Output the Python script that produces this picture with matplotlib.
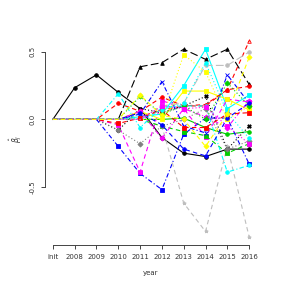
import matplotlib
matplotlib.use("Agg")
import matplotlib.pyplot as plt
import numpy as np

# x axis categories
years = ["init", "2008", "2009", "2010", "2011", "2012", "2013", "2014", "2015", "2016"]

# estimated coefficient paths, one list per variable
b01 = [0, 0.235, 0.33, 0.20, 0.08, -0.135, -0.25, -0.275, -0.22, -0.22]
b02 = [0, 0, 0, 0, 0.39, 0.42, 0.52, 0.445, 0.52, 0.26]
b03 = [0, 0, 0, 0, 0.02, 0.07, 0.10, 0.10, 0.22, 0.58]
b04 = [0, 0, 0, 0, 0, 0, 0.01, -0.06, -0.11, -0.09]
b05 = [0, 0, 0, -0.20, -0.40, -0.52, -0.11, 0.01, 0.01, -0.33]
b06 = [0, 0, 0, 0, 0.02, 0.04, 0.25, 0.52, 0.08, 0.18]
b07 = [0, 0, 0, -0.04, -0.39, 0.14, 0.08, -0.13, 0.15, 0.13]
b08 = [0, 0, 0, 0, 0.06, 0.0, 0.21, 0.21, 0.15, 0.07]
b09 = [0, 0, 0, 0, 0, -0.05, -0.62, -0.83, -0.20, -0.87]
b10 = [0, 0, 0, -0.08, 0.08, 0.05, 0.10, 0.17, -0.22, -0.05]
b11 = [0, 0, 0, 0.12, 0.06, 0.165, 0.10, 0.11, 0.22, 0.245]
b12 = [0, 0, 0, 0, 0, -0.05, -0.09, -0.12, -0.25, -0.18]
b13 = [0, 0, 0, 0, 0.04, 0.28, -0.05, -0.10, 0.33, 0.12]
b14 = [0, 0, 0, 0.19, -0.06, 0.09, 0.10, 0.10, -0.39, -0.34]
b15 = [0, 0, 0, 0, 0.06, -0.14, 0.08, 0.02, -0.06, 0.14]
b16 = [0, 0, 0, 0, 0.0, 0.0, 0.48, 0.35, 0.0, 0.10]
b17 = [0, 0, 0, 0, 0.0, 0.10, 0.12, 0.40, 0.40, 0.50]
b18 = [0, 0, 0, -0.08, -0.18, -0.05, 0.0, 0.08, -0.22, -0.16]
b19 = [0, 0, 0, -0.03, 0.01, 0.07, -0.06, -0.06, 0.04, 0.05]
b20 = [0, 0, 0, 0, 0.17, 0.04, 0.10, 0.0, 0.27, 0.10]
b21 = [0, 0, 0, 0, 0.05, -0.04, -0.22, -0.27, 0.01, 0.12]
b22 = [0, 0, 0, 0, 0.0, 0.07, 0.12, 0.42, 0.05, -0.14]
b23 = [0, 0, 0, 0, 0, 0.10, 0.08, 0.09, -0.05, -0.18]
b24 = [0, 0, 0, 0, 0.18, 0.03, 0.0, -0.20, 0.04, 0.46]

series = [b01, b02, b03, b04, b05, b06, b07, b08, b09, b10, b11, b12,
          b13, b14, b15, b16, b17, b18, b19, b20, b21, b22, b23, b24]

# R-like line styles
SOLID, DASH, DOT, DOTDASH, LONGDASH = "-", (0, (4, 3)), (0, (1, 2)), (0, (1, 2, 4, 2)), (0, (7, 3))

series_cols = ["black", "black", "red", "#00CD00", "blue", "cyan", "magenta", "yellow",
               "#BEBEBE", "black", "red", "#00CD00", "blue", "cyan", "magenta", "yellow",
               "#BEBEBE", "#808080", "red", "#00CD00", "blue", "cyan", "magenta", "yellow"]
series_ls = [SOLID, LONGDASH, DASH, SOLID, DOTDASH, SOLID, DASH, SOLID,
             DASH, DOT, DASH, DASH, DOTDASH, DOTDASH, DOTDASH, DOT,
             LONGDASH, DOT, DASH, DOT, DASH, DOT, DOT, DASH]
markers = ["o", "^", "^", "o", "s", "s", "s", "s", "*", "X", "o", "s",
           "x", "o", "D", "s", "o", "D", "s", "D", "o", "o", "s", "D"]


def main():
    fig = plt.figure(figsize=(2.87, 2.87), dpi=100)
    ax = fig.add_axes([45 / 287, 42 / 287, 212 / 287, 212 / 287])

    x = np.arange(1, len(years) + 1)
    for i, vals in enumerate(series):
        vals = np.asarray(vals)
        # no markers on the leading zeros (variable not yet in the model)
        nz = np.nonzero(vals)[0]
        start = nz[0] if len(nz) else len(vals)
        if i == 0:
            start = 1
        ax.plot(x, vals, color=series_cols[i], linestyle=series_ls[i], lw=0.8,
                marker=markers[i], markersize=2.6, markeredgewidth=0.6,
                markevery=list(range(start, len(vals))),
                fillstyle="none" if i == 2 else "full")

    ax.set_xlim(0.64, 10.36)
    ax.set_ylim(-0.93, 0.64)

    for s in ["top", "right"]:
        ax.spines[s].set_visible(False)
    ax.spines["left"].set_bounds(-0.5, 0.5)
    ax.spines["bottom"].set_bounds(1, 10)
    for s in ["left", "bottom"]:
        ax.spines[s].set_color("#444444")
        ax.spines[s].set_linewidth(0.7)

    ax.set_xticks(x)
    ax.set_xticklabels(years, fontsize=5, color="#333333")
    ax.set_yticks([-0.5, 0.0, 0.5])
    ax.set_yticklabels(["-0.5", "0.0", "0.5"], fontsize=5, color="#333333",
                       rotation=90, va="center")
    ax.tick_params(length=3, width=0.7, color="#444444", pad=3.5)

    ax.set_xlabel("year", fontsize=5, color="#333333", labelpad=7)
    ax.set_ylabel(r"$\hat{\beta}_j$", fontsize=5.5, color="#333333", labelpad=4)

    fig.savefig("out.png", dpi=100)
    plt.close(fig)


if __name__ == "__main__":
    main()
